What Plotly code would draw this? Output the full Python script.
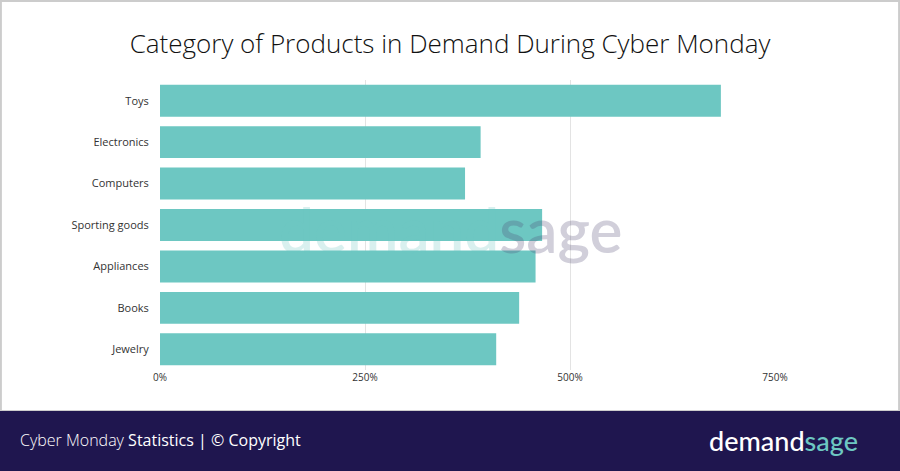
import plotly.graph_objects as go

# Données
categories = ["Toys", "Electronics", "Computers", "Sporting goods", "Appliances", "Books", "Jewelry"]
demand_pct = [684, 391, 372, 466, 458, 438, 410]
tick_vals = [0, 250, 500, 750]
tick_text = ["0%", "250%", "500%", "750%"]

W, H = 900, 471
teal = "#6dc7c2"
navy = "#1f164f"


def py(px_y):
    # pixel y -> paper y (margins are zero)
    return 1 - px_y / H


fig = go.Figure()
fig.add_trace(go.Bar(
    x=demand_pct,
    y=categories,
    orientation="h",
    marker=dict(color=teal, line=dict(width=0)),
    hoverinfo="x+y",
))

fig.update_layout(
    width=W,
    height=H,
    margin=dict(l=0, r=0, t=0, b=0),
    paper_bgcolor="white",
    plot_bgcolor="white",
    showlegend=False,
    bargap=0.23,
    font=dict(family="Open Sans, Lato, sans-serif", color="#333333"),
    xaxis=dict(
        domain=[160 / W, 775 / W],
        range=[0, 750],
        tickvals=tick_vals,
        ticktext=tick_text,
        showgrid=True,
        gridcolor="#e3e3e3",
        gridwidth=1,
        zeroline=False,
        showline=False,
        tickfont=dict(size=10, color="#333333"),
        ticks="",
        fixedrange=True,
        automargin=False,
    ),
    yaxis=dict(
        domain=[py(370), py(80)],
        autorange="reversed",
        showgrid=False,
        zeroline=False,
        tickfont=dict(size=11, color="#333333"),
        ticks="outside",
        ticklen=8,
        tickcolor="rgba(0,0,0,0)",
        fixedrange=True,
        automargin=False,
    ),
    title=dict(
        text="Category of Products in Demand During Cyber Monday",
        x=0.5,
        xanchor="center",
        y=py(44),
        yanchor="middle",
        font=dict(size=26, color="#111111", family="Open Sans, sans-serif", weight=300),
    ),
)

# cadre gris + bandeau du bas
fig.add_shape(type="rect", xref="paper", yref="paper", x0=0.001, x1=0.999, y0=py(411), y1=0.998,
              line=dict(color="#cccccc", width=2), fillcolor="rgba(0,0,0,0)", layer="below")
fig.add_shape(type="rect", xref="paper", yref="paper", x0=0, x1=1, y0=0, y1=py(411),
              line=dict(width=0), fillcolor=navy, layer="above")

# filigrane
fig.add_annotation(
    xref="paper", yref="paper", x=450 / W, y=py(229), xanchor="center", yanchor="middle",
    text="<span style='color:#6dc7c2'>demand</span><span style='color:#4a4470'>sage</span>",
    showarrow=False, opacity=0.25,
    font=dict(size=62, family="Lato, sans-serif", weight=600),
)

# texte du bandeau
fig.add_annotation(
    xref="paper", yref="paper", x=18 / W, y=py(440), xanchor="left", yanchor="middle",
    text="<span style='font-weight:300'>Cyber Monday</span> Statistics | © Copyright",
    showarrow=False, font=dict(size=16, color="white", family="Open Sans, sans-serif", weight=400),
)
fig.add_annotation(
    xref="paper", yref="paper", x=860 / W, y=py(440), xanchor="right", yanchor="middle",
    text="<span style='color:white'>demand</span><span style='color:#6dc7c2'>sage</span>",
    showarrow=False, font=dict(size=27, family="Lato, sans-serif", weight=500),
)

fig.write_html("out.html", config={"displayModeBar": False},
               post_script="document.body.style.margin='0';")
